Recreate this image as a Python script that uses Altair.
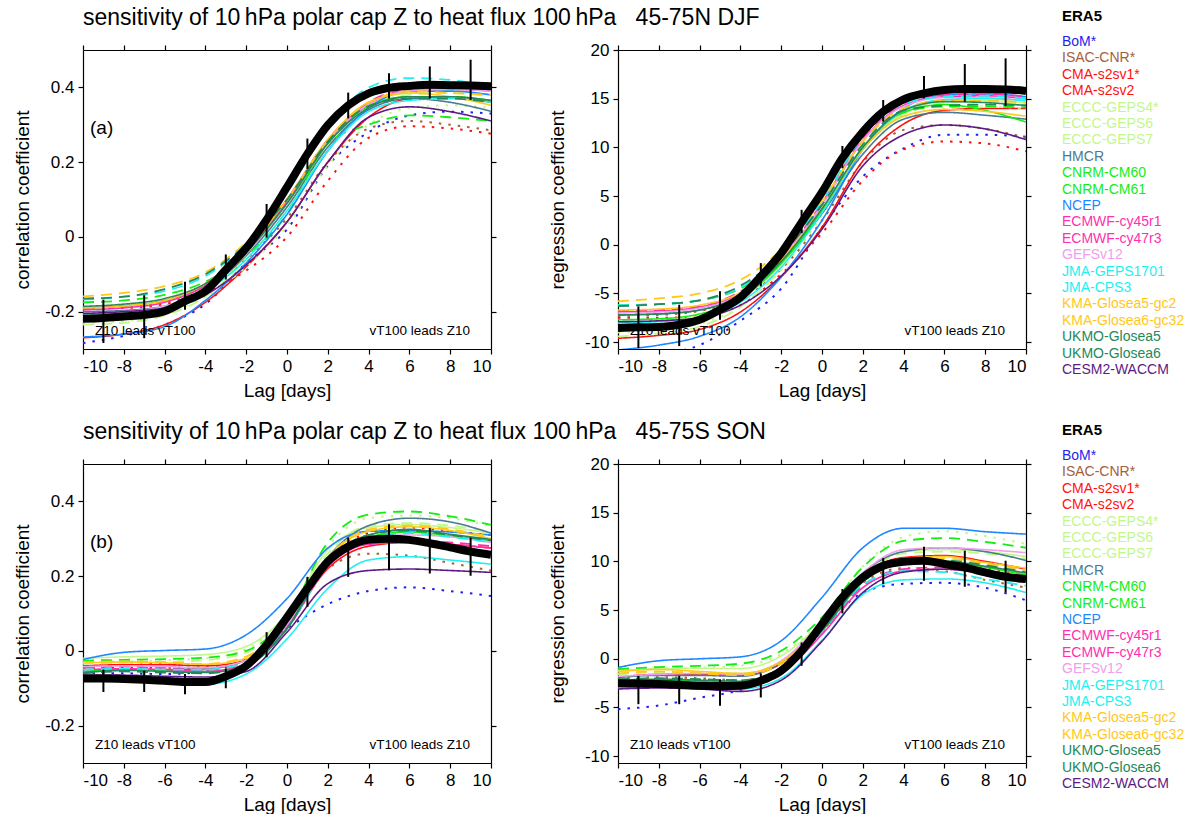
import altair as alt
import pandas as pd

FONT = "Liberation Sans"

LAGS = list(range(-10, 11, 2))
LAGS_ALL = list(range(-10, 11))
BAR_LAGS = list(range(-9, 10, 2))

MODELS = ["BoM*", "ISAC-CNR*", "CMA-s2sv1*", "CMA-s2sv2", "ECCC-GEPS4*", "ECCC-GEPS6",
          "ECCC-GEPS7", "HMCR", "CNRM-CM60", "CNRM-CM61", "NCEP", "ECMWF-cy45r1",
          "ECMWF-cy47r3", "GEFSv12", "JMA-GEPS1701", "JMA-CPS3", "KMA-Glosea5-gc2",
          "KMA-Glosea6-gc32", "UKMO-Glosea5", "UKMO-Glosea6", "CESM2-WACCM"]
COLORS = ["#1f1fee", "#a5603a", "#ff1010", "#ff1010", "#c2f78a", "#c2f78a",
          "#c2f78a", "#4a7a94", "#12ee12", "#12ee12", "#1e86ff", "#ff2fb0",
          "#ff2fb0", "#eda0ee", "#1ff0f0", "#1ff0f0", "#ffc81a",
          "#ffc81a", "#23885a", "#23885a", "#5c1a86"]
STYLES = ["dot", "dot", "dot", "solid", "dot", "dash",
          "solid", "solid", "dash", "solid", "solid", "dash",
          "solid", "solid", "dash", "solid", "dash",
          "solid", "dash", "solid", "solid"]

# ---------------- (a) correlation, DJF ----------------
ERA5_CORR_DJF = [-0.219, -0.217, -0.213, -0.209, -0.199, -0.172, -0.145, -0.088, -0.03, 0.046, 0.133,
                 0.222, 0.299, 0.352, 0.384, 0.399, 0.404, 0.407, 0.406, 0.405, 0.403]
ERA5_CORR_DJF_LO = [-0.284, -0.271, -0.195, -0.114, -0.002, 0.182, 0.317, 0.370, 0.370, 0.366]
ERA5_CORR_DJF_HI = [-0.168, -0.156, -0.120, -0.047, 0.088, 0.263, 0.386, 0.438, 0.456, 0.474]
CORR_DJF = {
    "BoM*": [-0.284, -0.265, -0.235, -0.18, -0.07, 0.02, 0.19, 0.28, 0.325, 0.335, 0.33],
    "ISAC-CNR*": [-0.19, -0.188, -0.175, -0.14, -0.06, 0.05, 0.20, 0.29, 0.31, 0.30, 0.285],
    "CMA-s2sv1*": [-0.19, -0.19, -0.18, -0.15, -0.09, 0.0, 0.15, 0.265, 0.296, 0.29, 0.276],
    "CMA-s2sv2": [-0.27, -0.26, -0.235, -0.175, -0.08, 0.04, 0.20, 0.32, 0.37, 0.375, 0.36],
    "ECCC-GEPS4*": [-0.23, -0.225, -0.205, -0.16, -0.08, 0.03, 0.19, 0.30, 0.345, 0.352, 0.345],
    "ECCC-GEPS6": [-0.235, -0.23, -0.21, -0.16, -0.06, 0.07, 0.24, 0.35, 0.38, 0.385, 0.375],
    "ECCC-GEPS7": [-0.21, -0.205, -0.19, -0.15, -0.05, 0.08, 0.25, 0.355, 0.385, 0.39, 0.38],
    "HMCR": [-0.20, -0.197, -0.185, -0.14, -0.05, 0.08, 0.24, 0.34, 0.37, 0.36, 0.336],
    "CNRM-CM60": [-0.175, -0.17, -0.155, -0.12, -0.05, 0.06, 0.25, 0.30, 0.325, 0.32, 0.31],
    "CNRM-CM61": [-0.19, -0.185, -0.17, -0.13, -0.04, 0.09, 0.25, 0.35, 0.375, 0.375, 0.365],
    "NCEP": [-0.268, -0.26, -0.24, -0.17, -0.07, 0.06, 0.23, 0.345, 0.39, 0.39, 0.38],
    "ECMWF-cy45r1": [-0.19, -0.185, -0.17, -0.125, -0.035, 0.10, 0.26, 0.36, 0.395, 0.40, 0.395],
    "ECMWF-cy47r3": [-0.195, -0.19, -0.175, -0.13, -0.04, 0.095, 0.255, 0.355, 0.39, 0.395, 0.39],
    "GEFSv12": [-0.205, -0.20, -0.185, -0.14, -0.045, 0.09, 0.255, 0.355, 0.39, 0.395, 0.39],
    "JMA-GEPS1701": [-0.168, -0.16, -0.145, -0.105, -0.02, 0.12, 0.29, 0.40, 0.425, 0.42, 0.40],
    "JMA-CPS3": [-0.21, -0.205, -0.19, -0.145, -0.06, 0.07, 0.23, 0.335, 0.365, 0.37, 0.36],
    "KMA-Glosea5-gc2": [-0.159, -0.15, -0.132, -0.095, -0.015, 0.10, 0.26, 0.36, 0.39, 0.385, 0.38],
    "KMA-Glosea6-gc32": [-0.19, -0.185, -0.17, -0.125, -0.035, 0.10, 0.26, 0.36, 0.385, 0.375, 0.352],
    "UKMO-Glosea5": [-0.165, -0.16, -0.14, -0.10, -0.02, 0.10, 0.255, 0.35, 0.37, 0.37, 0.36],
    "UKMO-Glosea6": [-0.186, -0.18, -0.165, -0.125, -0.04, 0.09, 0.25, 0.345, 0.375, 0.375, 0.365],
    "CESM2-WACCM": [-0.205, -0.20, -0.19, -0.155, -0.075, 0.04, 0.20, 0.32, 0.348, 0.335, 0.31],
}

# ---------------- (a) regression, DJF ----------------
ERA5_REG_DJF = [-8.54, -8.47, -8.44, -8.2, -7.69, -6.66, -5.4, -3.25, -0.85, 2.3, 5.4,
                8.9, 11.6, 13.67, 14.94, 15.55, 15.9, 16.0, 16.0, 15.95, 15.8]
ERA5_REG_DJF_LO = [-10.6, -10.4, -7.69, -4.27, 1.2, 7.86, 12.65, 15.04, 14.7, 14.25]
ERA5_REG_DJF_HI = [-6.32, -6.15, -4.78, -1.88, 3.59, 10.15, 14.87, 17.33, 18.56, 19.14]
REG_DJF = {
    "BoM*": [-12.0, -11.3, -10.3, -7.8, -4.5, 1.8, 7.0, 9.9, 11.3, 11.3, 11.1],
    "ISAC-CNR*": [-7.3, -7.2, -6.8, -5.5, -2.5, 2.5, 8.5, 11.8, 12.3, 11.9, 11.0],
    "CMA-s2sv1*": [-7.5, -7.5, -7.3, -6.2, -3.0, 1.2, 6.6, 9.8, 10.6, 10.4, 9.6],
    "CMA-s2sv2": [-9.6, -9.3, -8.7, -6.9, -3.3, 1.8, 8.6, 12.4, 13.8, 14.0, 14.0],
    "ECCC-GEPS4*": [-9.0, -8.7, -8.1, -6.3, -2.6, 3.0, 9.3, 13.0, 14.0, 14.2, 14.0],
    "ECCC-GEPS6": [-9.4, -9.1, -8.4, -6.4, -2.4, 3.4, 9.8, 13.4, 14.6, 14.7, 14.5],
    "ECCC-GEPS7": [-8.0, -7.8, -7.3, -5.6, -2.0, 3.5, 9.9, 13.5, 14.7, 14.8, 14.6],
    "HMCR": [-7.2, -7.1, -6.7, -5.2, -1.8, 3.2, 9.3, 12.9, 13.6, 13.3, 12.9],
    "CNRM-CM60": [-6.2, -6.1, -5.7, -4.5, -1.3, 3.7, 10.0, 13.6, 14.2, 14.2, 14.1],
    "CNRM-CM61": [-7.7, -7.6, -7.1, -5.5, -1.9, 3.5, 10.0, 13.6, 14.4, 13.8, 12.6],
    "NCEP": [-10.8, -10.3, -9.4, -7.4, -3.3, 2.5, 9.8, 14.0, 15.4, 15.5, 15.2],
    "ECMWF-cy45r1": [-6.8, -6.7, -6.3, -4.8, -1.3, 4.3, 10.9, 14.5, 15.4, 15.5, 15.2],
    "ECMWF-cy47r3": [-6.9, -6.8, -6.4, -5.0, -1.5, 4.1, 10.7, 14.3, 15.2, 15.3, 15.0],
    "GEFSv12": [-7.0, -6.9, -6.5, -5.1, -1.5, 4.1, 10.7, 14.2, 15.1, 15.1, 14.8],
    "JMA-GEPS1701": [-6.2, -6.1, -5.7, -4.4, -1.0, 4.5, 11.1, 14.5, 15.2, 15.3, 15.0],
    "JMA-CPS3": [-8.0, -7.9, -7.5, -5.9, -2.3, 3.3, 9.8, 13.8, 14.9, 15.0, 14.8],
    "KMA-Glosea5-gc2": [-5.8, -5.5, -5.0, -3.6, -0.5, 4.5, 10.6, 14.0, 14.8, 14.8, 14.6],
    "KMA-Glosea6-gc32": [-6.7, -6.6, -6.2, -4.9, -1.5, 3.7, 9.8, 13.2, 13.9, 13.7, 13.2],
    "UKMO-Glosea5": [-6.3, -6.1, -5.7, -4.2, -1.0, 4.1, 10.3, 13.8, 14.3, 14.4, 14.3],
    "UKMO-Glosea6": [-7.2, -7.1, -6.7, -5.2, -1.7, 3.7, 10.0, 13.8, 14.7, 14.6, 14.3],
    "CESM2-WACCM": [-7.9, -7.8, -7.5, -6.2, -3.2, 1.6, 8.1, 11.3, 12.3, 11.9, 10.8],
}

# ---------------- (b) correlation, SON ----------------
ERA5_CORR_SON = [-0.074, -0.074, -0.075, -0.077, -0.08, -0.083, -0.083, -0.068, -0.04, 0.016, 0.09,
                 0.167, 0.239, 0.279, 0.297, 0.30, 0.297, 0.288, 0.277, 0.266, 0.257]
ERA5_CORR_SON_LO = [-0.11, -0.11, -0.116, -0.10, -0.017, 0.118, 0.198, 0.216, 0.207, 0.201]
ERA5_CORR_SON_HI = [-0.05, -0.053, -0.062, -0.047, 0.05, 0.198, 0.303, 0.339, 0.329, 0.303]
CORR_SON = {
    "BoM*": [-0.06, -0.06, -0.062, -0.055, -0.02, 0.06, 0.125, 0.16, 0.17, 0.16, 0.147],
    "ISAC-CNR*": [-0.03, -0.03, -0.035, -0.04, -0.03, 0.06, 0.22, 0.26, 0.255, 0.235, 0.215],
    "CMA-s2sv1*": [-0.048, -0.045, -0.045, -0.045, -0.025, 0.07, 0.245, 0.315, 0.33, 0.32, 0.31],
    "CMA-s2sv2": [-0.04, -0.037, -0.037, -0.04, -0.025, 0.07, 0.22, 0.28, 0.29, 0.285, 0.275],
    "ECCC-GEPS4*": [-0.03, -0.028, -0.025, -0.02, 0.005, 0.10, 0.28, 0.355, 0.362, 0.355, 0.335],
    "ECCC-GEPS6": [-0.035, -0.032, -0.03, -0.025, -0.005, 0.085, 0.26, 0.335, 0.342, 0.335, 0.32],
    "ECCC-GEPS7": [-0.02, -0.016, -0.014, -0.01, 0.012, 0.10, 0.27, 0.33, 0.338, 0.33, 0.315],
    "HMCR": [-0.057, -0.052, -0.05, -0.048, -0.025, 0.07, 0.25, 0.335, 0.355, 0.345, 0.315],
    "CNRM-CM60": [-0.026, -0.024, -0.022, -0.018, 0.0, 0.09, 0.29, 0.365, 0.373, 0.36, 0.337],
    "CNRM-CM61": [-0.055, -0.05, -0.052, -0.055, -0.035, 0.06, 0.235, 0.305, 0.318, 0.308, 0.295],
    "NCEP": [-0.023, -0.004, 0.001, 0.005, 0.043, 0.14, 0.275, 0.32, 0.322, 0.318, 0.31],
    "ECMWF-cy45r1": [-0.045, -0.042, -0.045, -0.05, -0.03, 0.065, 0.23, 0.29, 0.295, 0.29, 0.28],
    "ECMWF-cy47r3": [-0.05, -0.048, -0.05, -0.055, -0.035, 0.06, 0.225, 0.285, 0.29, 0.285, 0.275],
    "GEFSv12": [-0.042, -0.04, -0.042, -0.045, -0.025, 0.07, 0.24, 0.305, 0.31, 0.305, 0.29],
    "JMA-GEPS1701": [-0.05, -0.048, -0.05, -0.05, -0.03, 0.06, 0.23, 0.305, 0.315, 0.305, 0.29],
    "JMA-CPS3": [-0.075, -0.078, -0.085, -0.089, -0.062, 0.032, 0.167, 0.243, 0.252, 0.243, 0.232],
    "KMA-Glosea5-gc2": [-0.03, -0.028, -0.03, -0.035, -0.015, 0.08, 0.25, 0.325, 0.335, 0.325, 0.305],
    "KMA-Glosea6-gc32": [-0.032, -0.03, -0.032, -0.036, -0.02, 0.08, 0.25, 0.32, 0.332, 0.322, 0.30],
    "UKMO-Glosea5": [-0.06, -0.055, -0.058, -0.06, -0.04, 0.06, 0.24, 0.31, 0.322, 0.31, 0.295],
    "UKMO-Glosea6": [-0.058, -0.052, -0.055, -0.058, -0.04, 0.06, 0.24, 0.31, 0.325, 0.312, 0.298],
    "CESM2-WACCM": [-0.065, -0.065, -0.068, -0.07, -0.055, 0.05, 0.18, 0.215, 0.219, 0.215, 0.21],
}

# ---------------- (b) regression, SON ----------------
ERA5_REG_SON = [-2.5, -2.53, -2.6, -2.67, -2.77, -2.8, -2.77, -2.26, -1.23, 0.82, 3.56,
                6.3, 8.36, 9.55, 9.97, 10.07, 9.73, 9.38, 8.87, 8.42, 8.18]
ERA5_REG_SON_LO = [-4.66, -4.66, -4.83, -3.97, -0.72, 4.66, 7.67, 8.0, 7.4, 6.8]
ERA5_REG_SON_HI = [-1.75, -1.75, -2.09, -1.5, 1.68, 7.16, 10.34, 11.5, 11.1, 10.07]
REG_SON = {
    "BoM*": [-5.17, -4.8, -4.0, -3.2, -1.5, 3.0, 6.8, 7.7, 7.8, 7.3, 6.0],
    "ISAC-CNR*": [-2.0, -1.9, -2.0, -2.2, -1.0, 2.8, 7.8, 9.3, 9.0, 8.1, 7.3],
    "CMA-s2sv1*": [-2.3, -2.1, -2.2, -2.3, -1.0, 3.0, 8.2, 10.0, 10.0, 9.3, 8.6],
    "CMA-s2sv2": [-1.9, -1.6, -1.6, -1.7, -0.5, 3.2, 8.5, 10.4, 10.6, 10.0, 9.2],
    "ECCC-GEPS4*": [-1.2, -1.0, -0.9, -0.7, 0.5, 4.0, 9.5, 12.5, 13.1, 12.6, 11.8],
    "ECCC-GEPS6": [-1.6, -1.4, -1.4, -1.5, -0.3, 3.5, 8.5, 10.8, 11.0, 10.8, 10.3],
    "ECCC-GEPS7": [-1.3, -1.0, -1.0, -1.0, 0.3, 3.8, 8.8, 11.0, 11.2, 11.0, 10.5],
    "HMCR": [-1.9, -1.7, -1.7, -1.8, -0.4, 3.6, 8.8, 11.0, 11.4, 11.0, 10.1],
    "CNRM-CM60": [-1.06, -0.85, -0.72, -0.5, 0.82, 4.25, 9.4, 12.1, 12.4, 12.0, 11.4],
    "CNRM-CM61": [-2.3, -2.2, -2.3, -2.4, -1.0, 2.9, 7.9, 9.8, 10.0, 9.4, 8.6],
    "NCEP": [-0.89, -0.2, 0.0, 0.2, 1.85, 6.3, 11.4, 13.4, 13.4, 13.05, 12.8],
    "ECMWF-cy45r1": [-2.6, -2.5, -2.6, -2.7, -1.3, 2.7, 7.5, 9.2, 9.4, 8.9, 8.2],
    "ECMWF-cy47r3": [-2.8, -2.7, -2.8, -2.9, -1.5, 2.5, 7.3, 9.0, 9.2, 8.7, 8.0],
    "GEFSv12": [-1.8, -1.6, -1.5, -1.6, -0.2, 3.8, 8.8, 11.2, 11.4, 11.2, 10.9],
    "JMA-GEPS1701": [-2.4, -2.3, -2.4, -2.5, -1.2, 2.8, 7.6, 9.0, 8.9, 8.2, 7.5],
    "JMA-CPS3": [-3.0, -2.9, -3.0, -3.1, -2.0, 1.9, 6.6, 8.1, 8.2, 7.8, 6.8],
    "KMA-Glosea5-gc2": [-1.5, -1.3, -1.5, -1.7, -0.5, 3.2, 8.2, 10.1, 10.3, 9.8, 9.1],
    "KMA-Glosea6-gc32": [-1.3, -1.1, -1.3, -1.5, -0.3, 3.4, 8.4, 10.3, 10.5, 9.9, 9.3],
    "UKMO-Glosea5": [-2.1, -2.0, -2.1, -2.2, -0.9, 3.0, 8.0, 9.9, 10.1, 9.6, 8.9],
    "UKMO-Glosea6": [-2.2, -2.1, -2.2, -2.3, -1.0, 2.9, 7.9, 9.8, 10.0, 9.5, 8.8],
    "CESM2-WACCM": [-3.1, -3.0, -3.1, -3.35, -2.2, 1.8, 6.8, 8.9, 9.2, 8.8, 8.2],
}

X_TICKS = list(range(-10, 11, 2))
CORR_TICKS = [-0.2, 0, 0.2, 0.4]
REG_TICKS = [-10, -5, 0, 5, 10, 15, 20]
CORR_DOMAIN = [-0.3, 0.5]
REG_DOMAIN = [-10.7, 20]

TITLE_DJF = "sensitivity of 10\u2009hPa polar cap Z to heat flux 100\u2009hPa\u00a0\u00a0 45-75N DJF"
TITLE_SON = "sensitivity of 10\u2009hPa polar cap Z to heat flux 100\u2009hPa\u00a0\u00a0 45-75S SON"

W, H = 408, 299
LBL = "'' + datum.value"


def panel(models, era, lo, hi, ydom, yticks, ytitle, letter=None, title=None):
    rows = []
    for m, c, s in zip(MODELS, COLORS, STYLES):
        for lag, v in zip(LAGS, models[m]):
            rows.append({"model": m, "color": c, "style": s, "lag": lag, "val": v})
    df = pd.DataFrame(rows)
    era_df = pd.DataFrame({"lag": LAGS_ALL, "val": era})
    bar_df = pd.DataFrame({"lag": BAR_LAGS, "lo": lo, "hi": hi})

    xs = alt.Scale(domain=[-10, 10], nice=False, zero=False)
    ys = alt.Scale(domain=ydom, nice=False, zero=False)

    lines = alt.Chart(df).mark_line(interpolate="monotone", clip=True).encode(
        x=alt.X("lag:Q", scale=xs, axis=alt.Axis(values=X_TICKS, labelExpr=LBL, title="Lag [days]",
                                                 tickSize=5, grid=False, titleY=41,
                                                 titleBaseline="middle")),
        y=alt.Y("val:Q", scale=ys, axis=alt.Axis(values=yticks, labelExpr=LBL, title=ytitle,
                                                 tickSize=5, grid=False, titleX=-61,
                                                 titleBaseline="middle")),
        color=alt.Color("color:N", scale=None),
        detail="model:N",
        strokeDash=alt.StrokeDash("style:N", legend=None,
                                  scale=alt.Scale(domain=["solid", "dash", "dot"],
                                                  range=[[1, 0], [11, 7], [2.5, 7]])),
        strokeWidth=alt.StrokeWidth("style:N", legend=None,
                                    scale=alt.Scale(domain=["solid", "dash", "dot"],
                                                    range=[1.6, 2.0, 2.6])),
    )
    era_line = alt.Chart(era_df).mark_line(color="black", strokeWidth=8, interpolate="monotone",
                                            clip=True).encode(
        x=alt.X("lag:Q", scale=xs, axis=None), y=alt.Y("val:Q", scale=ys, axis=None))
    bars = alt.Chart(bar_df).mark_rule(color="black", strokeWidth=2, clip=True).encode(
        x=alt.X("lag:Q", scale=xs, axis=None), y=alt.Y("lo:Q", scale=ys, axis=None), y2="hi:Q")
    frame = alt.Chart(era_df).mark_point(opacity=0).encode(
        x=alt.X("lag:Q", scale=xs, axis=alt.Axis(orient="top", values=X_TICKS, labels=False,
                                                 title=None, tickSize=5, grid=False)),
        y=alt.Y("val:Q", scale=ys, axis=alt.Axis(orient="right", values=yticks, labels=False,
                                                 title=None, tickSize=5, grid=False)))
    txt = pd.DataFrame({"t": ["Z10 leads vT100"]})
    t1 = alt.Chart(txt).mark_text(align="left", baseline="middle", fontSize=13.5, font=FONT,
                                  color="black").encode(
        x=alt.value(12), y=alt.value(281), text="t:N")
    txt2 = pd.DataFrame({"t": ["vT100 leads Z10"]})
    t2 = alt.Chart(txt2).mark_text(align="right", baseline="middle", fontSize=13.5, font=FONT,
                                   color="black").encode(
        x=alt.value(387), y=alt.value(281), text="t:N")
    layers = [lines, era_line, bars, frame, t1, t2]
    if letter:
        ltr = pd.DataFrame({"t": [letter]})
        layers.append(alt.Chart(ltr).mark_text(align="left", baseline="middle", fontSize=19,
                                                font=FONT, color="black").encode(
            x=alt.value(7), y=alt.value(78), text="t:N"))
    ch = alt.layer(*layers).resolve_axis(x="independent", y="independent").properties(
        width=W, height=H)
    if title:
        ch = ch.properties(title=alt.TitleParams(title, anchor="start", frame="group", fontSize=23,
                                                 font=FONT, fontWeight="normal", offset=14,
                                                 color="black"))
    return ch


def legend_panel():
    ldf = pd.DataFrame({"model": MODELS, "color": COLORS, "idx": list(range(len(MODELS)))})
    return alt.Chart(ldf).mark_text(align="left", baseline="middle", fontSize=14, font=FONT,
                                    dy=-8).encode(
        x=alt.value(-91),
        y=alt.Y("idx:Q", axis=None, scale=alt.Scale(domain=[0, H / 16.4], reverse=True, nice=False,
                                                    zero=False)),
        text="model:N",
        color=alt.Color("color:N", scale=None),
    ).properties(width=30, height=H,
                 title=alt.TitleParams("ERA5", anchor="start", frame="group", dx=-91, fontSize=15,
                                       font=FONT, fontWeight="bold", offset=11, color="black"))


p1 = panel(CORR_DJF, ERA5_CORR_DJF, ERA5_CORR_DJF_LO, ERA5_CORR_DJF_HI, CORR_DOMAIN, CORR_TICKS,
           "correlation coefficient", "(a)", TITLE_DJF)
p2 = panel(REG_DJF, ERA5_REG_DJF, ERA5_REG_DJF_LO, ERA5_REG_DJF_HI, REG_DOMAIN, REG_TICKS,
           "regression coefficient")
p3 = panel(CORR_SON, ERA5_CORR_SON, ERA5_CORR_SON_LO, ERA5_CORR_SON_HI, CORR_DOMAIN, CORR_TICKS,
           "correlation coefficient", "(b)", TITLE_SON)
p4 = panel(REG_SON, ERA5_REG_SON, ERA5_REG_SON_LO, ERA5_REG_SON_HI, REG_DOMAIN, REG_TICKS,
           "regression coefficient")

chart = alt.concat(p1, p2, legend_panel(), p3, p4, legend_panel(), columns=3,
                   spacing={"row": 115, "column": 127}, bounds="flush", align="each").properties(
    padding={"left": 13, "top": 7, "right": 0, "bottom": 0},
    background="white",
).configure_view(stroke=None).configure_axis(
    domainColor="black", tickColor="black", labelColor="black", titleColor="black",
    labelFont=FONT, titleFont=FONT, labelFontSize=17, titleFontSize=19,
    titleFontWeight="normal", domainWidth=1.2, tickWidth=1.2, labelPadding=4,
)

chart.save("out.html", embed_options={"renderer": "svg", "actions": False})
